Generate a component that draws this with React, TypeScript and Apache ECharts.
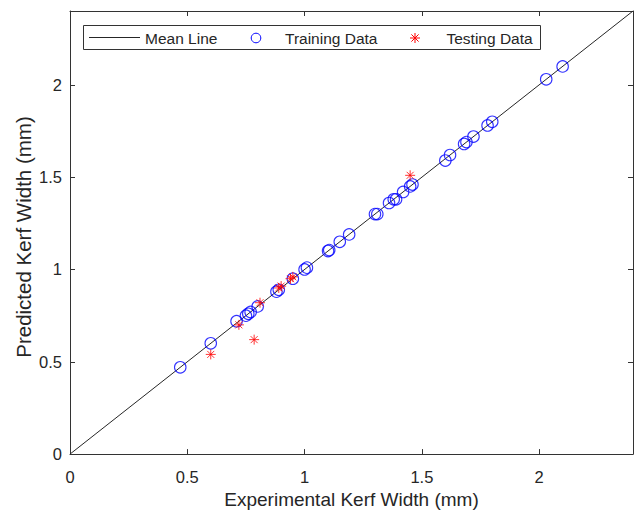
import React, { useEffect, useRef } from "react";
import * as echarts from "echarts";

const meanLineX = [0, 2.4];
const meanLineY = [0, 2.4];

const trainX = [0.47, 0.6, 0.71, 0.75, 0.76, 0.77, 0.8, 0.88, 0.89, 0.95, 1.0, 1.01, 1.1, 1.105, 1.15, 1.19, 1.3, 1.31, 1.36, 1.38, 1.39, 1.42, 1.45, 1.46, 1.6, 1.62, 1.68, 1.69, 1.72, 1.78, 1.8, 2.03, 2.1];
const trainY = [0.47, 0.6, 0.72, 0.75, 0.76, 0.77, 0.8, 0.88, 0.89, 0.95, 1.0, 1.01, 1.1, 1.105, 1.15, 1.19, 1.3, 1.3, 1.36, 1.38, 1.38, 1.42, 1.45, 1.46, 1.59, 1.62, 1.68, 1.69, 1.72, 1.78, 1.8, 2.03, 2.1];

const testX = [0.6, 0.72, 0.785, 0.81, 0.89, 0.9, 0.94, 0.95, 1.45];
const testY = [0.54, 0.7, 0.62, 0.82, 0.9, 0.91, 0.95, 0.96, 1.51];

const xTitle = "Experimental Kerf Width (mm)";
const yTitle = "Predicted Kerf Width (mm)";
const seriesNames = ["Mean Line", "Training Data", "Testing Data"];

const STAR = "path://M5,0L5,10M0,5L10,5M1.5,1.5L8.5,8.5M1.5,8.5L8.5,1.5";
const FONT = "Liberation Sans, Arial, sans-serif";
const AX = "#333333";
const TXT = "#262626";
const BLUE = "#0000ff";
const RED = "#ff0000";

function starLines(cx: number, cy: number, r: number) {
  const d = r * 0.72;
  const seg = (x1: number, y1: number, x2: number, y2: number) => ({
    type: "line",
    shape: { x1, y1, x2, y2 },
    style: { stroke: RED, lineWidth: 1 },
  });
  return [
    seg(cx, cy - r, cx, cy + r),
    seg(cx - r, cy, cx + r, cy),
    seg(cx - d, cy - d, cx + d, cy + d),
    seg(cx - d, cy + d, cx + d, cy - d),
  ];
}

export default function App() {
  const ref = useRef<HTMLDivElement>(null);
  useEffect(() => {
    if (!ref.current) return;
    const chart = echarts.init(ref.current, null, { renderer: "svg" });
    const axisCommon = {
      type: "value" as const,
      min: 0,
      max: 2.4,
      interval: 0.5,
      axisLine: { show: true, onZero: false, lineStyle: { color: AX, width: 1 } },
      axisTick: { show: true, inside: true, length: 5, lineStyle: { color: AX } },
      splitLine: { show: false },
    };
    const legY = 37.5;
    const legText = (x: number, text: string) => ({
      type: "text",
      x,
      y: legY + 0.5,
      style: { text, fontFamily: FONT, fontSize: 15.5, fill: TXT, align: "left", verticalAlign: "middle" },
    });
    chart.setOption({
      animation: false,
      backgroundColor: "#ffffff",
      textStyle: { fontFamily: FONT },
      grid: { left: 70, right: 3, top: 11, bottom: 57, containLabel: false },
      legend: { show: false },
      graphic: [
        {
          type: "text",
          x: 23,
          y: 237,
          rotation: Math.PI / 2,
          style: { text: yTitle, fontFamily: FONT, fontSize: 20.5, fill: TXT, align: "center", verticalAlign: "middle" },
        },
        {
          type: "group",
          z: 100,
          children: [
            {
              type: "rect",
              shape: { x: 83.5, y: 25.5, width: 457, height: 24 },
              style: { fill: "#ffffff", stroke: AX, lineWidth: 1 },
            },
            {
              type: "line",
              shape: { x1: 89, y1: legY, x2: 140, y2: legY },
              style: { stroke: "#262626", lineWidth: 1 },
            },
            legText(145, seriesNames[0]),
            {
              type: "circle",
              shape: { cx: 256, cy: legY + 0.5, r: 4.8 },
              style: { fill: "none", stroke: BLUE, lineWidth: 1 },
            },
            legText(285, seriesNames[1]),
            ...starLines(415, legY + 0.5, 5),
            legText(446.5, seriesNames[2]),
          ],
        },
      ],
      xAxis: [
        {
          ...axisCommon,
          position: "bottom",
          name: xTitle,
          nameLocation: "middle",
          nameGap: 31,
          nameTextStyle: { fontFamily: FONT, fontSize: 19, color: TXT },
          axisLabel: { show: true, showMaxLabel: false, margin: 14, fontFamily: FONT, fontSize: 16.5, color: TXT },
        },
        {
          ...axisCommon,
          position: "top",
          axisLabel: { show: false },
        },
      ],
      yAxis: [
        {
          ...axisCommon,
          position: "left",
          axisLabel: { show: true, showMaxLabel: false, margin: 8, fontFamily: FONT, fontSize: 16.5, color: TXT },
        },
        {
          ...axisCommon,
          position: "right",
          axisLabel: { show: false },
        },
      ],
      series: [
        {
          name: seriesNames[0],
          type: "line",
          data: meanLineX.map((x, i) => [x, meanLineY[i]]),
          showSymbol: false,
          symbol: "none",
          lineStyle: { color: "#262626", width: 1 },
          itemStyle: { color: "#262626" },
          z: 1,
        },
        {
          name: seriesNames[1],
          type: "scatter",
          data: trainX.map((x, i) => [x, trainY[i]]),
          symbol: "circle",
          symbolSize: 11.5,
          itemStyle: { color: "rgba(0,0,0,0)", borderColor: BLUE, borderWidth: 1.1 },
          z: 2,
        },
        {
          name: seriesNames[2],
          type: "scatter",
          data: testX.map((x, i) => [x, testY[i]]),
          symbol: STAR,
          symbolSize: 10,
          itemStyle: { color: "rgba(0,0,0,0)", borderColor: RED, borderWidth: 1 },
          z: 3,
        },
      ],
    });
    return () => chart.dispose();
  }, []);
  return (
    <div
      ref={ref}
      style={{ position: "fixed", left: 0, top: 0, width: 636, height: 514, background: "#fff" }}
    />
  );
}
